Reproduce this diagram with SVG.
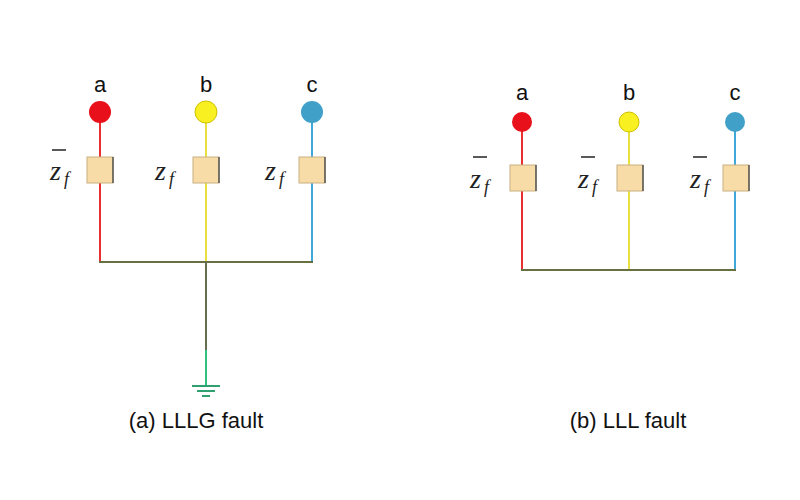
<svg xmlns="http://www.w3.org/2000/svg" width="800" height="500" viewBox="0 0 800 500">
<style>
.box{fill:#f8dca8;stroke:#c8b080;stroke-width:1}
.edge{stroke:#555;stroke-width:1.5}
.lbl{font-family:"Liberation Sans",Arial,sans-serif;font-size:22px;fill:#111;text-anchor:middle}
.z{font-family:"Liberation Serif","Times New Roman",serif;font-style:italic;font-size:28px;fill:#222}
.zs{font-size:18px}
.w{fill:none;stroke-width:2}
</style>
<rect width="800" height="500" fill="#fff"/>
<g id="connectors">
<line class="w" x1="100" y1="112" x2="100" y2="262" stroke="#e83030"/>
<line class="w" x1="206" y1="112" x2="206" y2="262" stroke="#e8e040"/>
<line class="w" x1="312" y1="112" x2="312" y2="262" stroke="#40a8d8"/>
<line class="w" x1="99" y1="262" x2="313" y2="262" stroke="#667040"/>
<line class="w" x1="206" y1="262" x2="206" y2="350" stroke="#667050"/>
<line class="w" x1="206" y1="350" x2="206" y2="386" stroke="#30c080"/>
<line x1="192" y1="386" x2="220" y2="386" stroke="#30a070" stroke-width="2"/>
<line x1="197" y1="391" x2="215" y2="391" stroke="#30a070" stroke-width="2"/>
<line x1="202" y1="396" x2="210" y2="396" stroke="#30a070" stroke-width="2"/>
<line class="w" x1="522" y1="122" x2="522" y2="270" stroke="#e83030" stroke-width="1.5"/>
<line class="w" x1="629" y1="122" x2="629" y2="270" stroke="#e8e040" stroke-width="1.5"/>
<line class="w" x1="735" y1="122" x2="735" y2="270" stroke="#40a8d8" stroke-width="1.5"/>
<line class="w" x1="521" y1="270" x2="736" y2="270" stroke="#667040"/>
</g>
<g id="a1"><circle cx="100" cy="112" r="11" fill="#e8101a"/><text class="lbl" x="100" y="92">a</text>
<rect class="box" x="87" y="157" width="26" height="26"/><line class="edge" x1="113" y1="157" x2="113" y2="183"/>
<line x1="52" y1="150" x2="66" y2="150" stroke="#222" stroke-width="1.5"/><text class="z" x="50" y="180">z<tspan class="zs" dx="3" dy="5">f</tspan></text></g>
<g id="b1"><circle cx="206" cy="112" r="11" fill="#f8f020" stroke="#d0c000"/><text class="lbl" x="206" y="92">b</text>
<rect class="box" x="193" y="157" width="26" height="26"/><line class="edge" x1="219" y1="157" x2="219" y2="183"/>
<text class="z" x="155" y="180">z<tspan class="zs" dx="3" dy="5">f</tspan></text></g>
<g id="c1"><circle cx="312" cy="112" r="11" fill="#40a0c8"/><text class="lbl" x="312" y="92">c</text>
<rect class="box" x="299" y="157" width="26" height="26"/><line class="edge" x1="325" y1="157" x2="325" y2="183"/>
<text class="z" x="265" y="180">z<tspan class="zs" dx="3" dy="5">f</tspan></text></g>
<g id="a2"><circle cx="522" cy="122" r="10" fill="#e8101a"/><text class="lbl" x="522" y="100">a</text>
<rect class="box" x="510" y="165" width="26" height="26"/><line class="edge" x1="536" y1="165" x2="536" y2="191"/>
<line x1="473" y1="157" x2="487" y2="157" stroke="#222" stroke-width="1.5"/><text class="z" x="470" y="188">z<tspan class="zs" dx="3" dy="5">f</tspan></text></g>
<g id="b2"><circle cx="629" cy="122" r="10" fill="#f8f020" stroke="#d0c000"/><text class="lbl" x="629" y="100">b</text>
<rect class="box" x="617" y="165" width="26" height="26"/><line class="edge" x1="643" y1="165" x2="643" y2="191"/>
<line x1="581" y1="157" x2="595" y2="157" stroke="#222" stroke-width="1.5"/><text class="z" x="578" y="188">z<tspan class="zs" dx="3" dy="5">f</tspan></text></g>
<g id="c2"><circle cx="735" cy="122" r="10" fill="#40a0c8"/><text class="lbl" x="735" y="100">c</text>
<rect class="box" x="723" y="165" width="26" height="26"/><line class="edge" x1="749" y1="165" x2="749" y2="191"/>
<line x1="693" y1="157" x2="707" y2="157" stroke="#222" stroke-width="1.5"/><text class="z" x="690" y="188">z<tspan class="zs" dx="3" dy="5">f</tspan></text></g>
<text class="lbl" x="196" y="428">(a) LLLG fault</text>
<text class="lbl" x="628" y="428">(b) LLL fault</text>
</svg>
